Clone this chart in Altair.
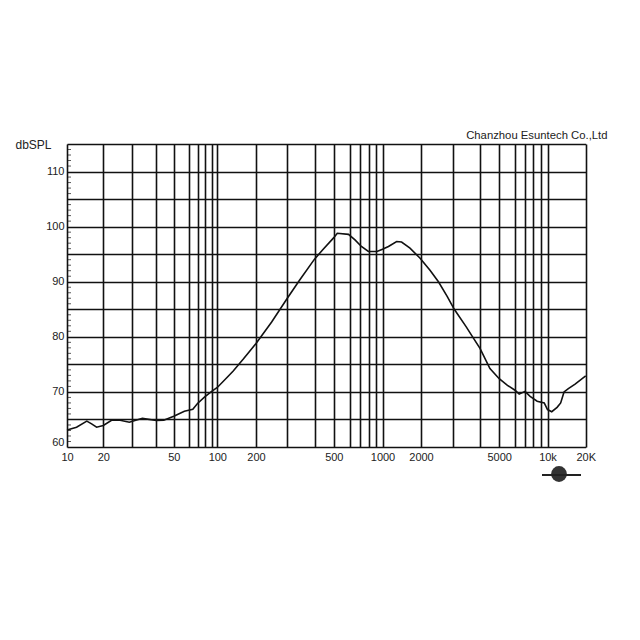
import altair as alt
import pandas as pd

# Frequency response curve (Hz, dB SPL)
freq = [10, 12, 14.6, 16, 17.6, 20, 22.5, 25, 29, 34, 40, 44, 50, 57, 64.6, 70, 80, 90, 100,
        120, 133, 160, 200, 245, 300, 342, 400, 440, 500, 520, 590, 648, 715, 795, 920, 1000,
        1113, 1290, 1410, 1640, 1960, 2244, 2500, 2800, 3050, 3460, 3700, 4000, 4490, 5000,
        5500, 6000, 6400, 7000, 7600, 8500, 9500, 10000, 10800, 11900, 12700, 13500, 14600,
        16500, 20000]
spl = [63.1, 63.6, 64.7, 64.2, 63.6, 63.9, 64.85, 64.9, 64.5, 65.2, 64.8, 64.85, 65.6, 66.5,
       66.85, 67.9, 69.1, 70.1, 70.8, 72.7, 73.8, 76.0, 78.8, 82.7, 87.0, 90.3, 94.1, 95.8,
       98.0, 98.8, 98.6, 97.6, 96.4, 95.5, 95.5, 95.9, 96.4, 97.3, 97.2, 96.1, 94.3, 92.1,
       90.0, 87.3, 85.0, 81.8, 80.0, 77.9, 74.25, 72.4, 71.2, 70.3, 69.6, 70.1, 69.2, 68.3,
       68.0, 66.8, 66.4, 67.2, 68.0, 70.0, 70.6, 71.4, 72.9]

# Grid frequencies of the (non-uniform) chart paper and their positions along the plot
grid_freq = [10, 20, 30, 40, 50, 60, 70, 80, 90, 100, 200, 300, 400, 500, 600, 700, 800, 900,
             1000, 2000, 3000, 4000, 5000, 6000, 7000, 8000, 9000, 10000, 20000]
grid_pos = [0, 36.3, 64.7, 89.3, 106.8, 121.5, 130.5, 137.7, 144.7, 150.3, 189, 220.3, 247.5,
            266.8, 283, 293, 301.8, 308.5, 315.5, 354, 385.7, 413, 432.2, 448, 458, 466.3,
            473.8, 480.5, 518.7]
x_label_values = [10, 20, 50, 100, 200, 500, 1000, 2000, 5000]
grid_db = [60, 65, 70, 75, 80, 85, 90, 95, 100, 105, 110, 115]
minor_db = [v for v in range(61, 115) if v % 5]

FONT = "Liberation Sans"
INK = "#111111"
TXT = "#222222"

df = pd.DataFrame({"freq": freq, "spl": spl})
minor_df = pd.DataFrame({"spl": minor_db})

x_scale = alt.Scale(type="log", domain=grid_freq, range=grid_pos, nice=False)
y_scale = alt.Scale(domain=[60, 115], nice=False, zero=False)

label_expr = (
    "datum.value == 10000 ? '10k' : (datum.value == 20000 ? '20K' : "
    "(indexof(" + str(x_label_values) + ", datum.value) >= 0 ? toString(datum.value) : ''))"
)

x_axis = alt.Axis(values=grid_freq, grid=True, gridColor=INK, gridWidth=1.6,
                  gridOpacity=1, ticks=False, domain=False, labelExpr=label_expr,
                  labelPadding=4, labelFontSize=11, labelFont=FONT, labelColor=TXT,
                  labelOverlap=False, labelFlush=False, labelBound=False, title=None)
y_axis = alt.Axis(values=grid_db, grid=True, gridColor=INK, gridWidth=1.6,
                  gridOpacity=1, ticks=False, domain=False,
                  labelExpr="datum.value % 10 == 0 && datum.value < 115 ? toString(datum.value) : ''",
                  labelPadding=3, labelFontSize=11, labelFont=FONT, labelColor=TXT,
                  labelOverlap=False, labelFlush=True, labelBound=False,
                  title="dbSPL", titleAngle=0, titleX=-52, titleY=0,
                  titleAlign="left", titleBaseline="middle", titleFontSize=12,
                  titleFontWeight="normal", titleFont=FONT, titleColor=TXT)

line = alt.Chart(df).mark_line(color=INK, strokeWidth=1.6).encode(
    x=alt.X("freq:Q", scale=x_scale, axis=x_axis),
    y=alt.Y("spl:Q", scale=y_scale, axis=y_axis),
)

minor = alt.Chart(minor_df).mark_tick(color=INK, size=4, thickness=1, orient="horizontal").encode(
    x=alt.value(2),
    y=alt.Y("spl:Q", scale=y_scale, axis=y_axis),
)

logo_data = alt.Data(values=[{"k": 1}])
globe = alt.Chart(logo_data).mark_circle(color="#333333", opacity=1, size=250).encode(
    x=alt.value(492), y=alt.value(330))
bar = alt.Chart(logo_data).mark_rule(color="#222222", strokeWidth=2).encode(
    x=alt.value(475), x2=alt.value(514), y=alt.value(331))

chart = alt.layer(line, minor, globe, bar).properties(
    width=519, height=303,
    padding={"left": 59, "top": 136, "right": 40, "bottom": 60},
    autosize=alt.AutoSizeParams(type="none"),
    title=alt.TitleParams("Chanzhou Esuntech Co.,Ltd", anchor="end", dx=12, dy=18, offset=6,
                          fontSize=11.3, fontWeight="normal", font=FONT, color=TXT,
                          baseline="alphabetic"),
).configure_view(stroke=INK, strokeWidth=2).configure(background="white")

chart.save("out.html", embed_options={"renderer": "svg", "actions": False})
